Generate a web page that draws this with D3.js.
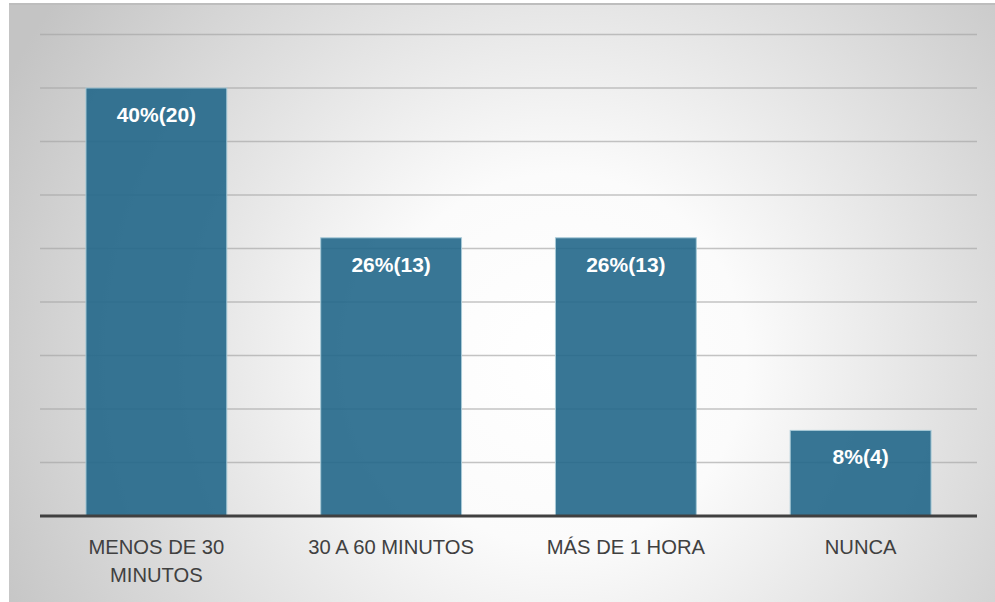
<!DOCTYPE html>
<html>
<head>
<meta charset="utf-8">
<script src="https://cdn.jsdelivr.net/npm/d3@7"></script>
<style>
  html, body { margin: 0; padding: 0; background: #ffffff; }
  svg { display: block; }
</style>
</head>
<body>
<svg id="chart" width="995" height="602"></svg>
<script>
// Tiempo dedicado: categories, percentages and respondent counts
const categories = ["MENOS DE 30 MINUTOS", "30 A 60 MINUTOS", "MÁS DE 1 HORA", "NUNCA"];
const categoryLines = [["MENOS DE 30", "MINUTOS"], ["30 A 60 MINUTOS"], ["MÁS DE 1 HORA"], ["NUNCA"]];
const percents = [40, 26, 26, 8];
const counts = [20, 13, 13, 4];
const yTicks = [0, 5, 10, 15, 20, 25, 30, 35, 40, 45];

const svg = d3.select("#chart");
const W = 995, H = 602;

// Panel background with a soft radial gradient
const defs = svg.append("defs");
const grad = defs.append("radialGradient")
  .attr("id", "bg")
  .attr("gradientUnits", "userSpaceOnUse")
  .attr("cx", 560).attr("cy", 360).attr("r", 620);
grad.append("stop").attr("offset", "0%").attr("stop-color", "#ffffff");
grad.append("stop").attr("offset", "30%").attr("stop-color", "#fbfbfb");
grad.append("stop").attr("offset", "100%").attr("stop-color", "#c4c4c4");

svg.append("rect")
  .attr("x", 9).attr("y", 4).attr("width", W - 9).attr("height", H - 4)
  .attr("fill", "url(#bg)");
svg.append("line")
  .attr("x1", 9).attr("x2", W).attr("y1", 4).attr("y2", 4)
  .attr("stroke", "#bdbdbd").attr("stroke-width", 2);

const x = d3.scaleBand()
  .domain(categories)
  .range([39, 978])
  .paddingInner(0.4)
  .paddingOuter(0.2);

const y = d3.scaleLinear()
  .domain([0, 45])
  .range([516, 34.5]);

// Horizontal gridlines
svg.append("g")
  .selectAll("line")
  .data(yTicks.filter(d => d > 0))
  .join("line")
  .attr("x1", 40).attr("x2", 977)
  .attr("y1", d => y(d)).attr("y2", d => y(d))
  .attr("stroke", "#a4a4a4")
  .attr("stroke-opacity", 0.65)
  .attr("stroke-width", 1.5);

// Bars
const data = categories.map((c, i) => ({ c, p: percents[i], n: counts[i] }));
svg.append("g")
  .selectAll("rect")
  .data(data)
  .join("rect")
  .attr("x", d => x(d.c))
  .attr("y", d => y(d.p))
  .attr("width", x.bandwidth())
  .attr("height", d => y(0) - y(d.p))
  .attr("fill", "#22678a")
  .attr("fill-opacity", 0.9)
  .attr("stroke", "#a8cad8")
  .attr("stroke-width", 1);

// Value labels inside bars
svg.append("g")
  .selectAll("text")
  .data(data)
  .join("text")
  .attr("x", d => x(d.c) + x.bandwidth() / 2)
  .attr("y", d => y(d.p) + 34)
  .attr("text-anchor", "middle")
  .attr("font-family", "Liberation Sans, Arial, sans-serif")
  .attr("font-weight", "bold")
  .attr("font-size", 21)
  .attr("fill", "#ffffff")
  .text(d => `${d.p}%(${d.n})`);

// Baseline axis
svg.append("line")
  .attr("x1", 40).attr("x2", 977)
  .attr("y1", y(0)).attr("y2", y(0))
  .attr("stroke", "#404040")
  .attr("stroke-width", 3);

// Category labels
const labels = svg.append("g")
  .selectAll("text")
  .data(categories)
  .join("text")
  .attr("text-anchor", "middle")
  .attr("font-family", "Liberation Sans, Arial, sans-serif")
  .attr("font-size", 20.2)
  .attr("fill", "#404040");
labels.each(function (c, i) {
  const t = d3.select(this);
  categoryLines[i].forEach((line, k) => {
    t.append("tspan")
      .attr("x", x(c) + x.bandwidth() / 2)
      .attr("y", 554 + k * 28)
      .text(line);
  });
});
</script>
</body>
</html>
